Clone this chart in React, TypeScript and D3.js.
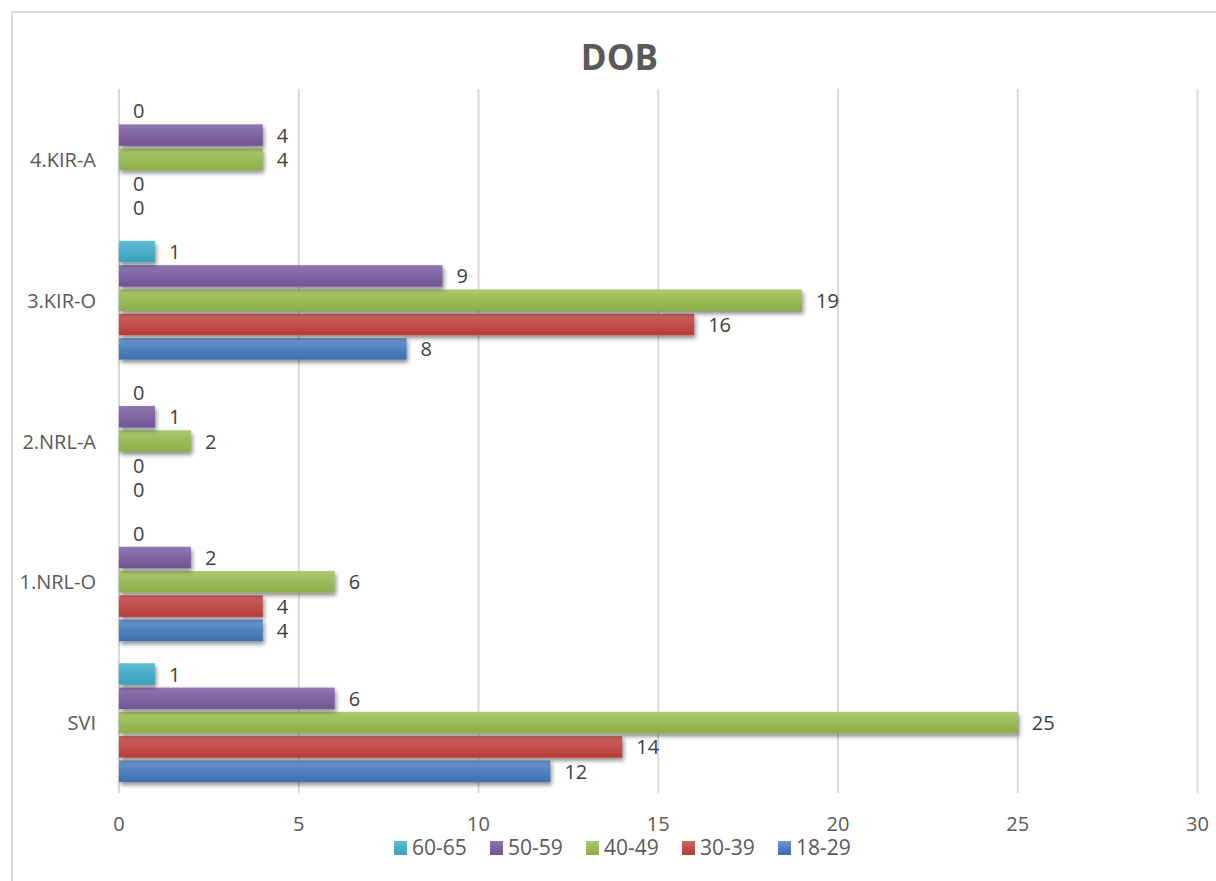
import React from "react";
import * as d3 from "d3";

const categories = ["4.KIR-A", "3.KIR-O", "2.NRL-A", "1.NRL-O", "SVI"];
const seriesNames = ["18-29", "30-39", "40-49", "50-59", "60-65"];
const s1829 = [0, 8, 0, 4, 12];
const s3039 = [0, 16, 0, 4, 14];
const s4049 = [4, 19, 2, 6, 25];
const s5059 = [4, 9, 1, 2, 6];
const s6065 = [0, 1, 0, 0, 1];
const values: Record<string, number[]> = {
  "18-29": s1829,
  "30-39": s3039,
  "40-49": s4049,
  "50-59": s5059,
  "60-65": s6065,
};
const xTicks = [0, 5, 10, 15, 20, 25, 30];
const legendOrder = ["60-65", "50-59", "40-49", "30-39", "18-29"];

const colors: Record<string, [string, string, string]> = {
  "18-29": ["#6c98d2", "#4f81bd", "#3c6eb0"],
  "30-39": ["#d0625e", "#c0504d", "#b83c39"],
  "40-49": ["#aac96f", "#9bbb59", "#8bae47"],
  "50-59": ["#9078b3", "#8064a2", "#715494"],
  "60-65": ["#5fbfd8", "#4bacc6", "#3aa1bd"],
};

const W = 1216;
const H = 881;
const FONT = "'Open Sans', 'DejaVu Sans', sans-serif";

export default function App() {
  const x = d3.scaleLinear().domain([0, 30]).range([119, 1197.5]);
  const y = d3.scaleBand<string>().domain(categories).range([89, 793]).paddingInner(0).paddingOuter(0);
  const yInner = d3
    .scaleBand<string>()
    .domain([...seriesNames].reverse())
    .range([0, y.bandwidth()])
    .paddingInner(0.115)
    .paddingOuter(0.455);
  const legendX = d3.scalePoint<string>().domain(legendOrder).range([394, 778]);

  return (
    <div style={{ position: "absolute", left: 0, top: 0 }}>
      <svg width={W} height={H} style={{ display: "block", background: "#fff" }}>
        <defs>
          {seriesNames.map((s, i) => (
            <linearGradient key={s} id={`g${i}`} x1="0" y1="0" x2="0" y2="1">
              <stop offset="0" stopColor={colors[s][0]} />
              <stop offset="0.5" stopColor={colors[s][1]} />
              <stop offset="1" stopColor={colors[s][2]} />
            </linearGradient>
          ))}
          <filter id="sh" x="-10%" y="-30%" width="130%" height="190%">
            <feDropShadow dx="1.5" dy="3" stdDeviation="2" floodColor="#000" floodOpacity="0.45" />
          </filter>
        </defs>
        <rect x={12} y={12} width={1400} height={1000} fill="#fff" stroke="#d9d9d9" strokeWidth={2} />
        <text x={619.5} y={70} textAnchor="middle" fontFamily={FONT} fontWeight="bold" fontSize={35} fill="#595959">
          DOB
        </text>
        {xTicks.map((t) => (
          <line key={t} x1={x(t)} x2={x(t)} y1={89} y2={793} stroke="#d9d9d9" strokeWidth={2} />
        ))}
        {categories.map((c, ci) => (
          <g key={c}>
            {seriesNames.map((s, si) => {
              const v = values[s][ci];
              const by = (y(c) as number) + (yInner(s) as number);
              const bh = yInner.bandwidth();
              return (
                <g key={s}>
                  {v > 0 && (
                    <rect
                      x={x(0)}
                      y={by}
                      width={x(v) - x(0)}
                      height={bh}
                      fill={`url(#g${si})`}
                      filter="url(#sh)"
                    />
                  )}
                  <text
                    x={x(v) + 14}
                    y={by + bh / 2}
                    dominantBaseline="central"
                    fontFamily={FONT}
                    fontSize={20}
                    fill="#404040"
                  >
                    {v}
                  </text>
                </g>
              );
            })}
            <text
              x={96}
              y={(y(c) as number) + y.bandwidth() / 2}
              textAnchor="end"
              dominantBaseline="central"
              fontFamily={FONT}
              fontSize={20}
              fill="#595959"
            >
              {c}
            </text>
          </g>
        ))}
        {xTicks.map((t) => (
          <text key={t} x={x(t)} y={831} textAnchor="middle" fontFamily={FONT} fontSize={20} fill="#595959">
            {t}
          </text>
        ))}
        {legendOrder.map((s) => {
          const lx = legendX(s) as number;
          const si = seriesNames.indexOf(s);
          return (
            <g key={s}>
              <rect x={lx} y={841} width={13} height={14} fill={`url(#g${si})`} />
              <text x={lx + 18} y={855} fontFamily={FONT} fontSize={21} fill="#595959">
                {s}
              </text>
            </g>
          );
        })}
      </svg>
    </div>
  );
}
